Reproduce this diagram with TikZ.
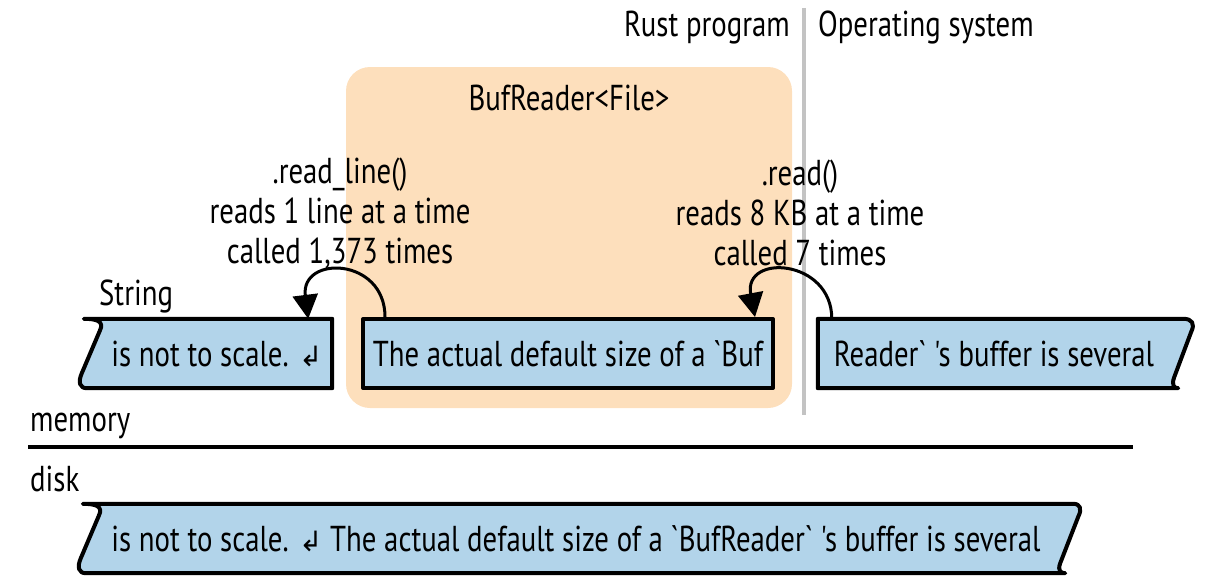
\documentclass[tikz,border=0pt]{standalone}
\usepackage{fontspec}
\setmainfont[FakeStretch=0.80,Ligatures=TeXOff]{PT Sans}
\newfontfamily\symfont{DejaVu Sans}
\usetikzlibrary{arrows.meta,calc}
\definecolor{peach}{RGB}{253,223,188}
\definecolor{bufblue}{RGB}{178,212,234}
\definecolor{sepgray}{RGB}{195,195,195}
\begin{document}
\begin{tikzpicture}[x=1pt,y=-1pt,
  every node/.style={font=\fontsize{36}{40}\selectfont, inner sep=0pt},
  bufbox/.style={minimum height=69pt},
  outline/.style={draw=black, line width=4pt, fill=bufblue, line join=round},
  callarrow/.style={draw=black, line width=3pt, -{Triangle[length=24pt,width=25pt]}}]
\useasboundingbox (0,0) rectangle (1222,586);

% region labels
\node[anchor=base east] (rust) at (790,37) {Rust program};
\node[anchor=base west] (os) at (818,37) {Operating system};
\coordinate (septop) at (804,8);
\coordinate (sepbot) at (804,415);

% BufReader area
\node[fill=peach, rounded corners=24pt, minimum width=446pt, minimum height=341pt] (bufreader) at (569,237.5) {};
\node[anchor=base] (brlabel) at (569,110) {BufReader<File>};
\draw[sepgray, line width=4pt] (septop) -- (sepbot);

% call annotations
\node[align=center] (readline) at (340,213) {.read\_line()\\reads 1 line at a time\\called 1,373 times};
\node[align=center] (readcall) at (800,213) {.read()\\reads 8 KB at a time\\called 7 times};

% memory buffers
\node[anchor=base west] (strlabel) at (99,305) {String};
\node[bufbox, minimum width=248pt] (strbuf) at (208,353.5) {};
\node[bufbox, minimum width=410pt, outline] (midbuf) at (568,353.5) {};
\node[bufbox, minimum width=365pt] (osbuf) at (1000.5,353.5) {};
\node[bufbox, minimum width=990pt] (diskbuf) at (578,538.5) {};

% outlines with torn edges
\draw[outline] (strbuf.south east) -- ([shift={(3,0)}]strbuf.south west)
  .. controls ([shift={(-4,0)}]strbuf.south west) and ([shift={(-6,-6)}]strbuf.south west) .. ([shift={(-2,-15)}]strbuf.south west)
  -- ([shift={(16,12)}]strbuf.north west)
  .. controls ([shift={(21,2)}]strbuf.north west) and ([shift={(12,0)}]strbuf.north west) .. (strbuf.north west)
  -- (strbuf.north east) -- cycle;
\draw[outline] (osbuf.north west) -- (osbuf.north east)
  .. controls ([shift={(9,0)}]osbuf.north east) and ([shift={(12,5)}]osbuf.north east) .. ([shift={(8,13)}]osbuf.north east)
  -- ([shift={(-9,-11)}]osbuf.south east)
  .. controls ([shift={(-12,-3)}]osbuf.south east) and ([shift={(-9,0)}]osbuf.south east) .. ([shift={(-5,0)}]osbuf.south east)
  -- (osbuf.south west) -- cycle;
\draw[outline] ([shift={(3,0)}]diskbuf.south west)
  .. controls ([shift={(-4,0)}]diskbuf.south west) and ([shift={(-6,-6)}]diskbuf.south west) .. ([shift={(-2,-15)}]diskbuf.south west)
  -- ([shift={(16,12)}]diskbuf.north west)
  .. controls ([shift={(21,2)}]diskbuf.north west) and ([shift={(12,0)}]diskbuf.north west) .. (diskbuf.north west)
  -- (diskbuf.north east)
  .. controls ([shift={(7,0)}]diskbuf.north east) and ([shift={(9,5)}]diskbuf.north east) .. ([shift={(5,13)}]diskbuf.north east)
  -- ([shift={(-13,-10)}]diskbuf.south east)
  .. controls ([shift={(-16,-2)}]diskbuf.south east) and ([shift={(-12,0)}]diskbuf.south east) .. ([shift={(-8,0)}]diskbuf.south east)
  -- cycle;

% buffer texts
\node (strtext) at (217,353.5) {is not to scale. {\symfont\fontsize{28}{28}\selectfont ↲}};
\node (midtext) at (568,353.5) {The actual default size of a `Buf};
\node (ostext) at (994,353.5) {Reader` 's buffer is several};
\node (disktext) at (576,538.5) {is not to scale. {\symfont\fontsize{28}{28}\selectfont ↲} The actual default size of a `BufReader` 's buffer is several};

% calls
\draw[callarrow] ([xshift=24pt]midbuf.north west) .. controls ([shift={(24,-60)}]midbuf.north west) and ([shift={(-32,-64)}]strbuf.north east) .. ([xshift=-24pt]strbuf.north east);
\draw[callarrow] ([xshift=14pt]osbuf.north west) .. controls ([shift={(14,-60)}]osbuf.north west) and ([shift={(-32,-64)}]midbuf.north east) .. ([xshift=-20pt]midbuf.north east);

% memory / disk divider
\node[anchor=base west] (memlabel) at (30,431) {memory};
\node[anchor=base west] (disklabel) at (30,491) {disk};
\coordinate (divl) at (28,447);
\coordinate (divr) at (1133,447);
\draw[line width=3.5pt] (divl) -- (divr);
\end{tikzpicture}
\end{document}
